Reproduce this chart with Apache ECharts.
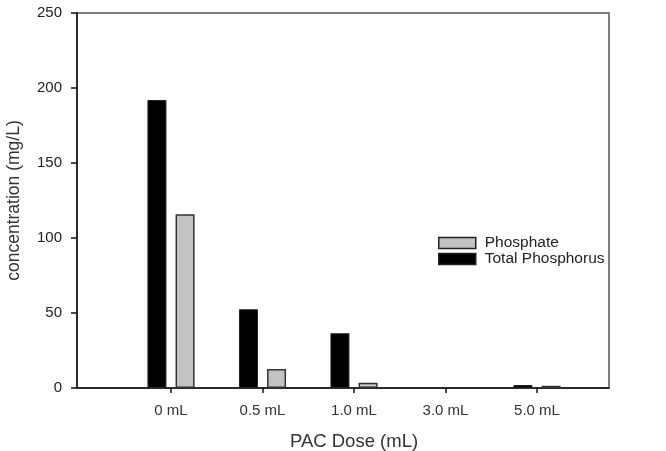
<!DOCTYPE html>
<html>
<head>
<meta charset="utf-8">
<script src="https://cdn.jsdelivr.net/npm/echarts@6/dist/echarts.min.js"></script>
<style>
  html, body { margin: 0; padding: 0; background: #fff; }
  #chart { width: 666px; height: 451px; }
</style>
</head>
<body>
<div id="chart"></div>
<script>
// PAC dose categories
var doses = ['0 mL', '0.5 mL', '1.0 mL', '3.0 mL', '5.0 mL']
var totalPhosphorus = [192, 52.5, 36.5, 0, 2]
var phosphate = [115.8, 12.7, 3.5, 0, 1.5]
var yTicks = [0, 50, 100, 150, 200, 250]

var font = 'Liberation Sans, Arial, sans-serif'

// zero values draw nothing in the original (no outline either)
function noZero(arr) {
  return arr.map(function(v) { return v === 0 ? '-' : v })
}

var chart = echarts.init(document.getElementById('chart'), null, { renderer: 'canvas' })

chart.setOption({
  backgroundColor: '#fff',
  animation: false,
  // grid 0 is the frame with the y axis, grid 1 holds the bars
  grid: [
    { left: 77, right: 57, top: 13, bottom: 63, outerBoundsMode: 'none', containLabel: false, show: true, borderColor: '#555', borderWidth: 1.5, backgroundColor: 'transparent' },
    { left: 125.25, right: 83.25, top: 13, bottom: 63, outerBoundsMode: 'none', containLabel: false }
  ],
  legend: {
    orient: 'vertical',
    left: 438,
    top: 235,
    padding: 0,
    icon: 'rect',
    itemWidth: 37,
    itemHeight: 11,
    itemGap: 0,
    data: ['Phosphate', 'Total Phosphorus'],
    itemStyle: { borderColor: '#222', borderWidth: 1.5 },
    textStyle: { fontFamily: font, fontSize: 15.5, lineHeight: 15, color: '#222', padding: [0, 0, 0, 4] }
  },
  xAxis: [
    {
      gridIndex: 0,
      type: 'value',
      min: 0,
      max: 1,
      axisLine: { show: true, onZero: false, lineStyle: { color: '#111', width: 1.5 } },
      axisTick: { show: false },
      axisLabel: { show: false },
      splitLine: { show: false }
    },
    {
      gridIndex: 1,
      type: 'category',
      data: doses,
      name: 'PAC Dose (mL)',
      nameLocation: 'middle',
      nameGap: 44,
      nameTextStyle: { fontFamily: font, fontSize: 18.5, color: '#333' },
      axisLine: { show: false },
      axisTick: { show: true, alignWithLabel: true, length: 5, lineStyle: { color: '#111', width: 1.5 } },
      axisLabel: { margin: 15, fontFamily: font, fontSize: 15, color: '#333' },
      splitLine: { show: false }
    }
  ],
  yAxis: [
    {
      gridIndex: 0,
      type: 'value',
      min: yTicks[0],
      max: yTicks[yTicks.length - 1],
      interval: 50,
      name: 'concentration (mg/L)',
      nameLocation: 'middle',
      nameGap: 54,
      nameTextStyle: { fontFamily: font, fontSize: 17.5, color: '#333' },
      axisLine: { show: true, lineStyle: { color: '#111', width: 1.5 } },
      axisTick: { show: true, length: 6, lineStyle: { color: '#111', width: 1.5 } },
      axisLabel: { margin: 15, fontFamily: font, fontSize: 15, color: '#222' },
      splitLine: { show: false }
    },
    {
      gridIndex: 1,
      type: 'value',
      min: yTicks[0],
      max: yTicks[yTicks.length - 1],
      show: false,
      splitLine: { show: false }
    }
  ],
  series: [
    {
      name: 'Total Phosphorus',
      type: 'bar',
      xAxisIndex: 1,
      yAxisIndex: 1,
      data: noZero(totalPhosphorus),
      barWidth: 19,
      barGap: '48%',
      itemStyle: { color: '#000', borderColor: '#222', borderWidth: 1 }
    },
    {
      name: 'Phosphate',
      type: 'bar',
      xAxisIndex: 1,
      yAxisIndex: 1,
      data: noZero(phosphate),
      barWidth: 19,
      barGap: '48%',
      itemStyle: { color: '#c3c3c3', borderColor: '#333', borderWidth: 1.5 }
    }
  ]
})
</script>
</body>
</html>
